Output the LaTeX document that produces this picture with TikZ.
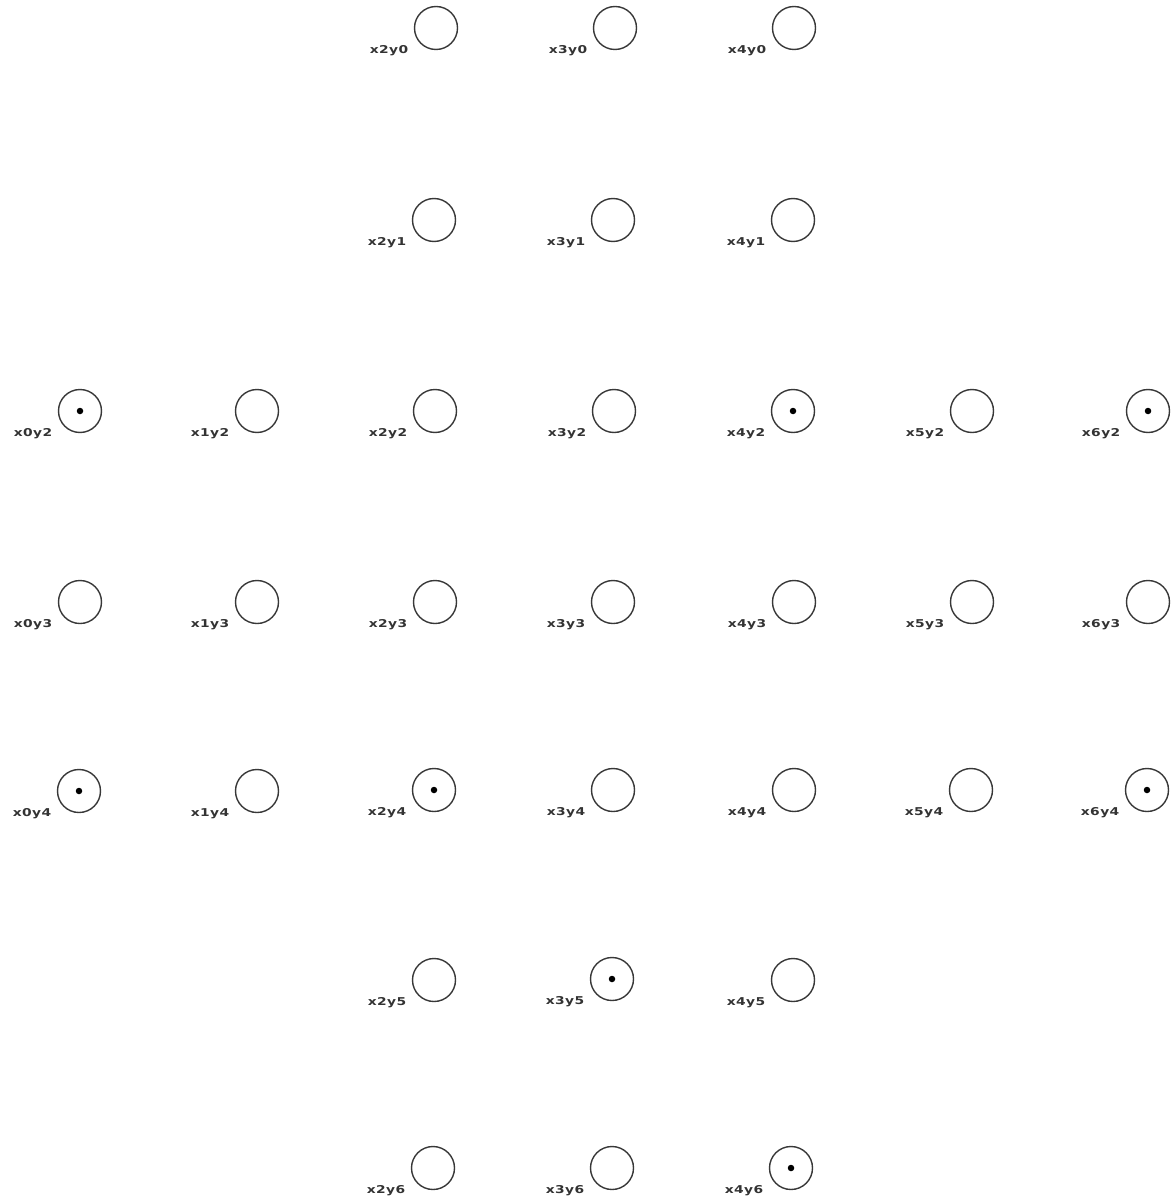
\documentclass[tikz,border=0pt]{standalone}
\usepackage{fontspec}
\newfontfamily\lblfont{DejaVu Sans}[FakeStretch=1.28,LetterSpace=4]
\begin{document}
\begin{tikzpicture}[x=1pt,y=-1pt,
  hole/.style={circle,draw=black!78,line width=1.4pt,minimum size=43pt,inner sep=0pt},
  peg/.style={circle,fill=black,minimum size=6.5pt,inner sep=0pt},
  lbl/.style={anchor=base east,inner sep=0pt,font=\lblfont\bfseries\fontsize{10.8}{12}\selectfont,text=black!80}]
\useasboundingbox (0,0) rectangle (1173,1198);
\foreach \n/\px/\py in {
  x2y0/436/28, x3y0/615/28, x4y0/794/28,
  x2y1/434/220, x3y1/613/220, x4y1/793/220,
  x0y2/80/411, x1y2/257/411, x2y2/435/411, x3y2/614/411, x4y2/793/411, x5y2/972/411, x6y2/1148/411,
  x0y3/80/602, x1y3/257/602, x2y3/435/602, x3y3/613/602, x4y3/794/602, x5y3/972/602, x6y3/1148/602,
  x0y4/79/791, x1y4/257/791, x2y4/434/790, x3y4/613/790, x4y4/794/790, x5y4/971/790, x6y4/1147/790,
  x2y5/434/980, x3y5/612/979, x4y5/793/980,
  x2y6/433/1168, x3y6/612/1168, x4y6/791/1168}
{
  \node[hole] (\n) at (\px,\py) {};
  \node[lbl] (\n-l) at (\px-27.5,\py+25.5) {\n};
}
\foreach \n in {x0y2,x4y2,x6y2,x0y4,x2y4,x6y4,x3y5,x4y6}
  \node[peg] (\n-p) at (\n.center) {};
\end{tikzpicture}
\end{document}
